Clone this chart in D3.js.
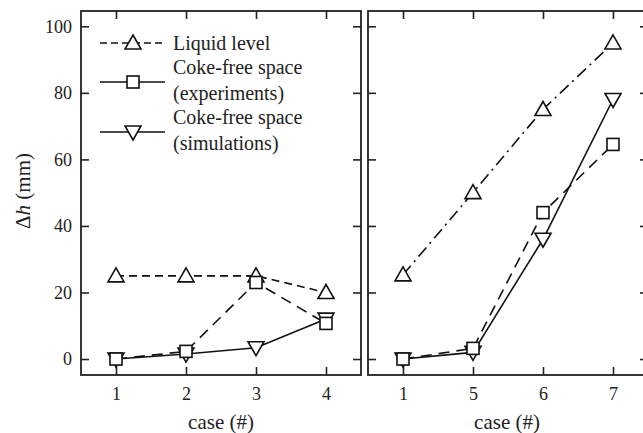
<!DOCTYPE html>
<html>
<head>
<meta charset="utf-8">
<script src="https://cdn.jsdelivr.net/npm/d3@7"></script>
<style>
  body { margin: 0; background: #fff; }
  svg text { fill: #222; }
</style>
</head>
<body>
<div id="chart"></div>
<script>
// left panel
const casesLeft = ["1", "2", "3", "4"];
const liquidLeft = [25, 25, 25, 20];
const expLeft = [0, 2.3, 23, 10.7];
const simLeft = [0, 1.5, 3.4, 12];
// right panel
const casesRight = ["1", "5", "6", "7"];
const liquidRight = [25.3, 50, 75, 95];
const expRight = [0, 3.2, 44, 64.5];
const simRight = [0, 2, 36, 78];
const yTicks = [0, 20, 40, 60, 80, 100];

const width = 643, height = 433;
const plotTop = 11, plotBottom = 375;
const serif = "'Liberation Serif', 'DejaVu Serif', 'Times New Roman', serif";

const svg = d3.select("#chart").append("svg")
  .attr("width", width)
  .attr("height", height)
  .style("font-family", serif);

const y = d3.scaleLinear().domain([-4.8, 104.6]).range([plotBottom, plotTop]);

const triUp = "M0,-8 L8,6 L-8,6 Z";
const triDown = "M0,8 L8,-6 L-8,-6 Z";

function panel(cases, liquid, exp, sim, x0, x1, opts) {
  const x = d3.scalePoint().domain(cases).range([x0, x1]).padding(0.5);
  const g = svg.append("g");
  const tl = 8;

  // inward ticks on all four sides
  g.append("g").attr("transform", "translate(0," + plotBottom + ")")
    .call(d3.axisBottom(x).tickSize(-tl).tickPadding(12))
    .call(a => a.select(".domain").remove());
  g.append("g").attr("transform", "translate(0," + plotTop + ")")
    .call(d3.axisTop(x).tickSize(-tl).tickFormat(""))
    .call(a => a.select(".domain").remove());
  g.append("g").attr("transform", "translate(" + x0 + ",0)")
    .call(d3.axisLeft(y).tickValues(yTicks).tickSize(-tl)
      .tickPadding(9)
      .tickFormat(opts.labels ? d3.format("d") : ""))
    .call(a => a.select(".domain").remove());
  g.append("g").attr("transform", "translate(" + x1 + ",0)")
    .call(d3.axisRight(y).tickValues(yTicks).tickSize(-tl).tickFormat(""))
    .call(a => a.select(".domain").remove());
  g.selectAll("g").attr("font-family", null);
  g.selectAll(".tick line").attr("stroke", "#222").attr("stroke-width", 1.6);
  g.selectAll(".tick text").attr("font-size", 18).style("font-family", serif);

  g.append("rect")
    .attr("x", x0).attr("y", plotTop)
    .attr("width", x1 - x0).attr("height", plotBottom - plotTop)
    .attr("fill", "none").attr("stroke", "#222").attr("stroke-width", 1.8);

  const line = d3.line().x((d, i) => x(cases[i])).y(d => y(d));

  g.append("path").datum(liquid).attr("d", line)
    .attr("fill", "none").attr("stroke", "#111").attr("stroke-width", 1.6)
    .attr("stroke-dasharray", opts.liquidDash);
  g.append("path").datum(exp).attr("d", line)
    .attr("fill", "none").attr("stroke", "#111").attr("stroke-width", 1.6)
    .attr("stroke-dasharray", "11,7");
  g.append("path").datum(sim).attr("d", line)
    .attr("fill", "none").attr("stroke", "#111").attr("stroke-width", 1.6);

  g.selectAll(".liq").data(liquid).enter().append("path")
    .attr("transform", (d, i) => "translate(" + x(cases[i]) + "," + y(d) + ")")
    .attr("d", triUp).attr("fill", "#fff").attr("stroke", "#111").attr("stroke-width", 1.6);
  g.selectAll(".sim").data(sim).enter().append("path")
    .attr("transform", (d, i) => "translate(" + x(cases[i]) + "," + y(d) + ")")
    .attr("d", triDown).attr("fill", "#fff").attr("stroke", "#111").attr("stroke-width", 1.6);
  g.selectAll(".exp").data(exp).enter().append("rect")
    .attr("x", (d, i) => x(cases[i]) - 6).attr("y", d => y(d) - 6)
    .attr("width", 12).attr("height", 12)
    .attr("fill", "#fff").attr("stroke", "#111").attr("stroke-width", 1.6);

  svg.append("text")
    .attr("x", (x0 + x1) / 2 + (opts.labelShift || 0)).attr("y", 429)
    .attr("text-anchor", "middle").attr("font-size", 21)
    .text("case (#)");
}

panel(casesLeft, liquidLeft, expLeft, simLeft, 81, 361, { labels: true, liquidDash: "8,5", labelShift: 0 });
panel(casesRight, liquidRight, expRight, simRight, 368, 648, { labels: false, liquidDash: "12,5,2,5", labelShift: -1 });

// y label
svg.append("text")
  .attr("transform", "translate(30,191) rotate(-90)")
  .attr("text-anchor", "middle").attr("font-size", 21)
  .html('Δ<tspan font-style="italic">h</tspan> (mm)');

// legend
const legend = svg.append("g");
const rows = [
  { y: 43, dash: "7,4", mark: triUp, text: ["Liquid level"] },
  { y: 82, dash: null, mark: "sq", text: ["Coke-free space", "(experiments)"] },
  { y: 132, dash: null, mark: triDown, text: ["Coke-free space", "(simulations)"] }
];
rows.forEach(r => {
  legend.append("line")
    .attr("x1", 100).attr("x2", 165).attr("y1", r.y).attr("y2", r.y)
    .attr("stroke", "#111").attr("stroke-width", 1.6)
    .attr("stroke-dasharray", r.dash);
  if (r.mark === "sq") {
    legend.append("rect").attr("x", 127).attr("y", r.y - 6).attr("width", 12).attr("height", 12)
      .attr("fill", "#fff").attr("stroke", "#111").attr("stroke-width", 1.6);
  } else {
    legend.append("path").attr("transform", "translate(133," + r.y + ")").attr("d", r.mark)
      .attr("fill", "#fff").attr("stroke", "#111").attr("stroke-width", 1.6);
  }
  const t = legend.append("text").attr("x", 173).attr("font-size", 20);
  if (r.text.length === 1) {
    t.attr("y", r.y + 7).text(r.text[0]);
  } else {
    t.append("tspan").attr("x", 173).attr("y", r.y - 8).text(r.text[0]);
    t.append("tspan").attr("x", 173).attr("y", r.y + 18).text(r.text[1]);
  }
});
</script>
</body>
</html>
